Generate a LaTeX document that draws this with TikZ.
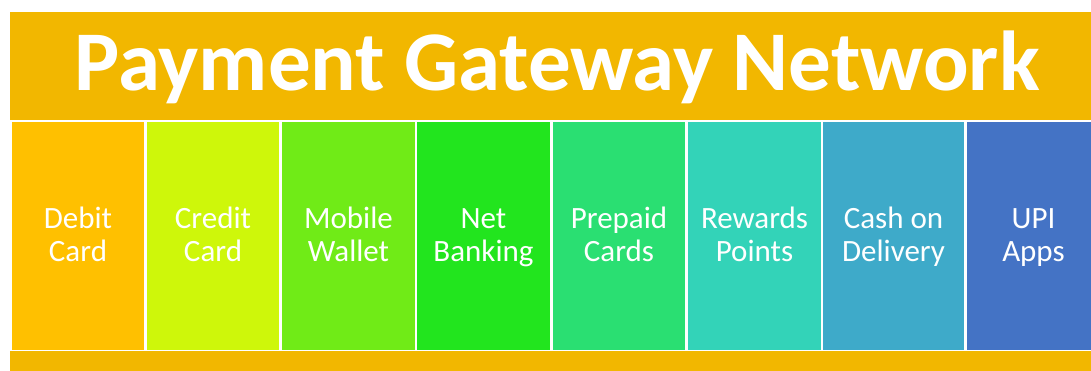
\documentclass[tikz,border=0pt]{standalone}
\usepackage{fontspec}
\setmainfont{Carlito}
\usepackage{xcolor}
\usetikzlibrary{positioning}
\definecolor{bannerorange}{HTML}{F2B700}
\definecolor{debitcol}{HTML}{FFC000}
\definecolor{creditcol}{HTML}{CEF70A}
\definecolor{walletcol}{HTML}{70EB17}
\definecolor{netcol}{HTML}{22E51E}
\definecolor{prepaidcol}{HTML}{2ADF72}
\definecolor{rewardcol}{HTML}{33D3B8}
\definecolor{cashcol}{HTML}{3EAAC9}
\definecolor{upicol}{HTML}{4473C5}
\tikzset{
  banner/.style={fill=bannerorange, inner sep=0pt, text=white},
  method/.style={minimum height=227pt, inner sep=0pt, align=center, text=white,
    font=\fontsize{31}{33.5}\selectfont, text height=60pt, text depth=8.6pt},
}

\begin{document}
\begin{tikzpicture}[x=1pt, y=-1pt]
  \useasboundingbox (0,0) rectangle (1091,371);
  \clip (0,0) rectangle (1091,371);

  % TITLE BANNER
  \node[banner, anchor=north west, minimum width=1094pt, minimum height=107.5pt,
    text height=65pt, text depth=15pt,
    font=\fontsize{85}{90}\selectfont\bfseries] (title) at (10,12) {Payment Gateway Network};

  % PAYMENT METHODS
  \node[method, fill=debitcol, minimum width=132pt] (debit) at (78,236) {Debit\\Card};
  \node[method, fill=creditcol, minimum width=132pt] (credit) at (213,236) {Credit\\Card};
  \node[method, fill=walletcol, minimum width=133pt] (wallet) at (348.5,236) {Mobile\\Wallet};
  \node[method, fill=netcol, minimum width=133pt] (netbank) at (483.5,236) {Net\\Banking};
  \node[method, fill=prepaidcol, minimum width=132pt] (prepaid) at (619,236) {Prepaid\\Cards};
  \node[method, fill=rewardcol, minimum width=133pt] (rewards) at (754.5,236) {Rewards\\Points};
  \node[method, fill=cashcol, minimum width=141pt] (cod) at (893.5,236) {Cash on\\Delivery};
  \node[method, fill=upicol, minimum width=133pt] (upi) at (1033.5,236) {UPI\\Apps};

  % BOTTOM STRIP
  \node[banner, anchor=north west, minimum width=1094pt, minimum height=25pt] (strip) at (10,350.7) {};

\end{tikzpicture}
\end{document}
